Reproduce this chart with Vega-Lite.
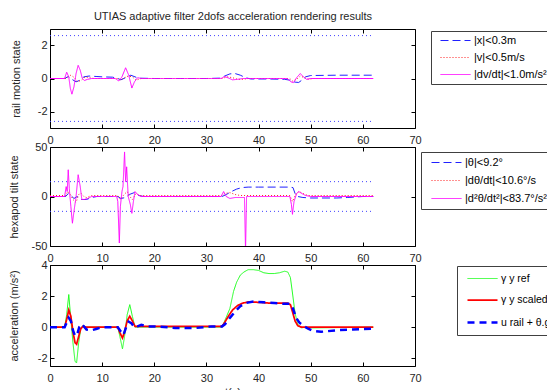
{
  "$schema": "https://vega.github.io/schema/vega-lite/v6.json",
  "padding": {"left": 7, "top": 10, "right": 0, "bottom": 0},
  "config": {
    "font": "Liberation Sans",
    "view": {"stroke": "#000000", "strokeWidth": 1},
    "axis": {
      "labelFont": "Liberation Sans", "labelFontSize": 11, "labelColor": "#262626",
      "titleFont": "Liberation Sans", "titleFontSize": 11, "titleFontWeight": "normal", "titleColor": "#262626",
      "grid": true, "gridColor": "#000000", "gridDash": [1, 3], "gridOpacity": 0.75,
      "domain": false, "ticks": true, "tickColor": "#000000", "tickSize": -4, "labelPadding": 7,
      "labelFlush": false, "labelOverlap": false
    },
    "axisX": {"labelPadding": 10},
    "legend": {
      "labelFont": "Liberation Sans", "labelFontSize": 11, "labelColor": "#000000", "labelLimit": 400,
      "strokeColor": "#404040", "fillColor": "#ffffff", "symbolType": "M-3,0L3,0", "symbolSize": 100,
      "symbolStrokeWidth": 1, "symbolOpacity": 1
    }
  },
  "datasets": {
    "p1": [
      {"s":"|x|<0.3m","t":0,"y":0},{"s":"|x|<0.3m","t":2.8,"y":0},{"s":"|x|<0.3m","t":3.5,"y":0.12},{"s":"|x|<0.3m","t":4.2,"y":-0.05},{"s":"|x|<0.3m","t":5,"y":-0.2},{"s":"|x|<0.3m","t":5.8,"y":-0.1},{"s":"|x|<0.3m","t":6.5,"y":0.1},{"s":"|x|<0.3m","t":7.5,"y":0.15},{"s":"|x|<0.3m","t":9,"y":0.12},{"s":"|x|<0.3m","t":10,"y":0.1},{"s":"|x|<0.3m","t":12,"y":0.08},{"s":"|x|<0.3m","t":13,"y":0},{"s":"|x|<0.3m","t":13.6,"y":-0.08},{"s":"|x|<0.3m","t":14.5,"y":0.05},{"s":"|x|<0.3m","t":15.5,"y":0.2},{"s":"|x|<0.3m","t":16.3,"y":0.1},{"s":"|x|<0.3m","t":17,"y":0.02},{"s":"|x|<0.3m","t":20,"y":0},{"s":"|x|<0.3m","t":25,"y":0},{"s":"|x|<0.3m","t":30,"y":0},{"s":"|x|<0.3m","t":32.5,"y":0.02},{"s":"|x|<0.3m","t":33.5,"y":0.15},{"s":"|x|<0.3m","t":34.5,"y":0.28},{"s":"|x|<0.3m","t":35.5,"y":0.3},{"s":"|x|<0.3m","t":36.5,"y":0.2},{"s":"|x|<0.3m","t":37.5,"y":0.05},{"s":"|x|<0.3m","t":38.5,"y":-0.03},{"s":"|x|<0.3m","t":42,"y":-0.03},{"s":"|x|<0.3m","t":45,"y":-0.05},{"s":"|x|<0.3m","t":46,"y":-0.1},{"s":"|x|<0.3m","t":47,"y":-0.22},{"s":"|x|<0.3m","t":47.7,"y":-0.24},{"s":"|x|<0.3m","t":48.3,"y":-0.1},{"s":"|x|<0.3m","t":49,"y":0.1},{"s":"|x|<0.3m","t":50,"y":0.18},{"s":"|x|<0.3m","t":55,"y":0.2},{"s":"|x|<0.3m","t":60,"y":0.2},{"s":"|x|<0.3m","t":62,"y":0.2},
      {"s":"|v|<0.5m/s","t":0,"y":0},{"s":"|v|<0.5m/s","t":3,"y":0},{"s":"|v|<0.5m/s","t":3.5,"y":0.1},{"s":"|v|<0.5m/s","t":4,"y":0.2},{"s":"|v|<0.5m/s","t":4.7,"y":0.05},{"s":"|v|<0.5m/s","t":5.3,"y":-0.2},{"s":"|v|<0.5m/s","t":6,"y":-0.1},{"s":"|v|<0.5m/s","t":6.8,"y":0.1},{"s":"|v|<0.5m/s","t":7.5,"y":0.05},{"s":"|v|<0.5m/s","t":8.5,"y":0},{"s":"|v|<0.5m/s","t":13,"y":0},{"s":"|v|<0.5m/s","t":13.5,"y":-0.1},{"s":"|v|<0.5m/s","t":14.3,"y":0.05},{"s":"|v|<0.5m/s","t":15,"y":0.15},{"s":"|v|<0.5m/s","t":15.8,"y":0.1},{"s":"|v|<0.5m/s","t":16.5,"y":-0.1},{"s":"|v|<0.5m/s","t":17.5,"y":0},{"s":"|v|<0.5m/s","t":33,"y":0},{"s":"|v|<0.5m/s","t":34,"y":0.1},{"s":"|v|<0.5m/s","t":35,"y":0.05},{"s":"|v|<0.5m/s","t":36,"y":-0.05},{"s":"|v|<0.5m/s","t":37,"y":-0.05},{"s":"|v|<0.5m/s","t":38,"y":0},{"s":"|v|<0.5m/s","t":46,"y":0},{"s":"|v|<0.5m/s","t":46.5,"y":-0.15},{"s":"|v|<0.5m/s","t":47.3,"y":-0.05},{"s":"|v|<0.5m/s","t":48,"y":0.15},{"s":"|v|<0.5m/s","t":48.8,"y":0.05},{"s":"|v|<0.5m/s","t":49.5,"y":-0.05},{"s":"|v|<0.5m/s","t":50.5,"y":0},{"s":"|v|<0.5m/s","t":62,"y":0},
      {"s":"|dv/dt|<1.0m/s²","t":0,"y":0},{"s":"|dv/dt|<1.0m/s²","t":2.8,"y":0},{"s":"|dv/dt|<1.0m/s²","t":3.2,"y":0.38},{"s":"|dv/dt|<1.0m/s²","t":3.6,"y":0.1},{"s":"|dv/dt|<1.0m/s²","t":3.9,"y":-0.6},{"s":"|dv/dt|<1.0m/s²","t":4.2,"y":-0.95},{"s":"|dv/dt|<1.0m/s²","t":4.6,"y":-0.5},{"s":"|dv/dt|<1.0m/s²","t":5,"y":0.3},{"s":"|dv/dt|<1.0m/s²","t":5.4,"y":0.8},{"s":"|dv/dt|<1.0m/s²","t":5.8,"y":0.5},{"s":"|dv/dt|<1.0m/s²","t":6.2,"y":0},{"s":"|dv/dt|<1.0m/s²","t":6.6,"y":-0.12},{"s":"|dv/dt|<1.0m/s²","t":7.2,"y":-0.05},{"s":"|dv/dt|<1.0m/s²","t":8,"y":0},{"s":"|dv/dt|<1.0m/s²","t":12.5,"y":0},{"s":"|dv/dt|<1.0m/s²","t":13.2,"y":-0.15},{"s":"|dv/dt|<1.0m/s²","t":13.8,"y":0.1},{"s":"|dv/dt|<1.0m/s²","t":14.5,"y":0.65},{"s":"|dv/dt|<1.0m/s²","t":15.1,"y":0.2},{"s":"|dv/dt|<1.0m/s²","t":15.7,"y":-0.58},{"s":"|dv/dt|<1.0m/s²","t":16.2,"y":-0.2},{"s":"|dv/dt|<1.0m/s²","t":16.8,"y":0.05},{"s":"|dv/dt|<1.0m/s²","t":17.5,"y":0},{"s":"|dv/dt|<1.0m/s²","t":32.8,"y":0},{"s":"|dv/dt|<1.0m/s²","t":33.5,"y":0.12},{"s":"|dv/dt|<1.0m/s²","t":34.3,"y":0.02},{"s":"|dv/dt|<1.0m/s²","t":35,"y":-0.08},{"s":"|dv/dt|<1.0m/s²","t":36,"y":-0.05},{"s":"|dv/dt|<1.0m/s²","t":37,"y":0},{"s":"|dv/dt|<1.0m/s²","t":45.5,"y":0},{"s":"|dv/dt|<1.0m/s²","t":46.2,"y":-0.2},{"s":"|dv/dt|<1.0m/s²","t":46.7,"y":-0.25},{"s":"|dv/dt|<1.0m/s²","t":47.3,"y":0.05},{"s":"|dv/dt|<1.0m/s²","t":48,"y":0.3},{"s":"|dv/dt|<1.0m/s²","t":48.6,"y":0.1},{"s":"|dv/dt|<1.0m/s²","t":49.2,"y":-0.05},{"s":"|dv/dt|<1.0m/s²","t":50,"y":0},{"s":"|dv/dt|<1.0m/s²","t":62,"y":0}
    ],
    "lim1": [
      {"g":"u","t":0,"y":2.6},{"g":"u","t":62,"y":2.6},{"g":"d","t":0,"y":-2.6},{"g":"d","t":62,"y":-2.6}
    ],
    "p2": [
      {"s":"|θ|<9.2°","t":0,"y":0},{"s":"|θ|<9.2°","t":3,"y":0},{"s":"|θ|<9.2°","t":3.5,"y":3},{"s":"|θ|<9.2°","t":4,"y":1},{"s":"|θ|<9.2°","t":4.6,"y":-2},{"s":"|θ|<9.2°","t":5.2,"y":0},{"s":"|θ|<9.2°","t":6,"y":-3},{"s":"|θ|<9.2°","t":7,"y":-3},{"s":"|θ|<9.2°","t":8,"y":-1},{"s":"|θ|<9.2°","t":9,"y":0},{"s":"|θ|<9.2°","t":13,"y":0},{"s":"|θ|<9.2°","t":13.6,"y":-2},{"s":"|θ|<9.2°","t":14.5,"y":-1},{"s":"|θ|<9.2°","t":15.2,"y":2},{"s":"|θ|<9.2°","t":16.2,"y":4},{"s":"|θ|<9.2°","t":17,"y":1},{"s":"|θ|<9.2°","t":18,"y":0},{"s":"|θ|<9.2°","t":33,"y":0},{"s":"|θ|<9.2°","t":33.8,"y":2},{"s":"|θ|<9.2°","t":34.8,"y":5},{"s":"|θ|<9.2°","t":35.8,"y":7.5},{"s":"|θ|<9.2°","t":36.8,"y":9},{"s":"|θ|<9.2°","t":38,"y":9.5},{"s":"|θ|<9.2°","t":40,"y":9.5},{"s":"|θ|<9.2°","t":44,"y":9.5},{"s":"|θ|<9.2°","t":46,"y":9.5},{"s":"|θ|<9.2°","t":46.6,"y":9},{"s":"|θ|<9.2°","t":47,"y":3},{"s":"|θ|<9.2°","t":47.5,"y":0},{"s":"|θ|<9.2°","t":48.5,"y":-1},{"s":"|θ|<9.2°","t":50,"y":-1.5},{"s":"|θ|<9.2°","t":55,"y":-1.5},{"s":"|θ|<9.2°","t":57,"y":-1},{"s":"|θ|<9.2°","t":60,"y":0},{"s":"|θ|<9.2°","t":62,"y":0},
      {"s":"|dθ/dt|<10.6°/s","t":0,"y":1},{"s":"|dθ/dt|<10.6°/s","t":3,"y":1},{"s":"|dθ/dt|<10.6°/s","t":3.4,"y":5},{"s":"|dθ/dt|<10.6°/s","t":3.8,"y":3},{"s":"|dθ/dt|<10.6°/s","t":4.4,"y":-3},{"s":"|dθ/dt|<10.6°/s","t":5,"y":-6},{"s":"|dθ/dt|<10.6°/s","t":5.5,"y":2},{"s":"|dθ/dt|<10.6°/s","t":6,"y":3},{"s":"|dθ/dt|<10.6°/s","t":6.5,"y":0},{"s":"|dθ/dt|<10.6°/s","t":7,"y":-1},{"s":"|dθ/dt|<10.6°/s","t":8,"y":1},{"s":"|dθ/dt|<10.6°/s","t":13,"y":1},{"s":"|dθ/dt|<10.6°/s","t":13.5,"y":-3},{"s":"|dθ/dt|<10.6°/s","t":14.2,"y":2},{"s":"|dθ/dt|<10.6°/s","t":14.8,"y":5},{"s":"|dθ/dt|<10.6°/s","t":15.3,"y":0},{"s":"|dθ/dt|<10.6°/s","t":15.8,"y":-3},{"s":"|dθ/dt|<10.6°/s","t":16.5,"y":3},{"s":"|dθ/dt|<10.6°/s","t":17.2,"y":1},{"s":"|dθ/dt|<10.6°/s","t":33,"y":1},{"s":"|dθ/dt|<10.6°/s","t":33.5,"y":3},{"s":"|dθ/dt|<10.6°/s","t":34.5,"y":4},{"s":"|dθ/dt|<10.6°/s","t":35.5,"y":2},{"s":"|dθ/dt|<10.6°/s","t":36.5,"y":1},{"s":"|dθ/dt|<10.6°/s","t":46,"y":1},{"s":"|dθ/dt|<10.6°/s","t":46.5,"y":-5},{"s":"|dθ/dt|<10.6°/s","t":47.2,"y":3},{"s":"|dθ/dt|<10.6°/s","t":47.8,"y":5},{"s":"|dθ/dt|<10.6°/s","t":48.5,"y":3},{"s":"|dθ/dt|<10.6°/s","t":49.5,"y":1},{"s":"|dθ/dt|<10.6°/s","t":62,"y":1},
      {"s":"|d²θ/dt²|<83.7°/s²","t":0,"y":0},{"s":"|d²θ/dt²|<83.7°/s²","t":2.8,"y":0},{"s":"|d²θ/dt²|<83.7°/s²","t":3.1,"y":10},{"s":"|d²θ/dt²|<83.7°/s²","t":3.3,"y":5},{"s":"|d²θ/dt²|<83.7°/s²","t":3.5,"y":27},{"s":"|d²θ/dt²|<83.7°/s²","t":3.7,"y":8},{"s":"|d²θ/dt²|<83.7°/s²","t":4,"y":-10},{"s":"|d²θ/dt²|<83.7°/s²","t":4.3,"y":-27},{"s":"|d²θ/dt²|<83.7°/s²","t":4.6,"y":-15},{"s":"|d²θ/dt²|<83.7°/s²","t":5,"y":0},{"s":"|d²θ/dt²|<83.7°/s²","t":5.4,"y":22},{"s":"|d²θ/dt²|<83.7°/s²","t":5.8,"y":10},{"s":"|d²θ/dt²|<83.7°/s²","t":6.1,"y":-3},{"s":"|d²θ/dt²|<83.7°/s²","t":6.6,"y":-3},{"s":"|d²θ/dt²|<83.7°/s²","t":7.2,"y":-2},{"s":"|d²θ/dt²|<83.7°/s²","t":8,"y":0},{"s":"|d²θ/dt²|<83.7°/s²","t":12.8,"y":0},{"s":"|d²θ/dt²|<83.7°/s²","t":13,"y":-5},{"s":"|d²θ/dt²|<83.7°/s²","t":13.3,"y":-47},{"s":"|d²θ/dt²|<83.7°/s²","t":13.5,"y":-10},{"s":"|d²θ/dt²|<83.7°/s²","t":13.8,"y":5},{"s":"|d²θ/dt²|<83.7°/s²","t":14,"y":10},{"s":"|d²θ/dt²|<83.7°/s²","t":14.3,"y":45},{"s":"|d²θ/dt²|<83.7°/s²","t":14.5,"y":15},{"s":"|d²θ/dt²|<83.7°/s²","t":14.7,"y":30},{"s":"|d²θ/dt²|<83.7°/s²","t":15,"y":0},{"s":"|d²θ/dt²|<83.7°/s²","t":15.4,"y":-8},{"s":"|d²θ/dt²|<83.7°/s²","t":15.7,"y":-17},{"s":"|d²θ/dt²|<83.7°/s²","t":16,"y":-5},{"s":"|d²θ/dt²|<83.7°/s²","t":16.3,"y":5},{"s":"|d²θ/dt²|<83.7°/s²","t":16.8,"y":2},{"s":"|d²θ/dt²|<83.7°/s²","t":17.5,"y":0},{"s":"|d²θ/dt²|<83.7°/s²","t":32.8,"y":0},{"s":"|d²θ/dt²|<83.7°/s²","t":33.3,"y":5},{"s":"|d²θ/dt²|<83.7°/s²","t":33.8,"y":0},{"s":"|d²θ/dt²|<83.7°/s²","t":34.5,"y":-2},{"s":"|d²θ/dt²|<83.7°/s²","t":35.5,"y":-1},{"s":"|d²θ/dt²|<83.7°/s²","t":37.3,"y":-1},{"s":"|d²θ/dt²|<83.7°/s²","t":37.5,"y":-55},{"s":"|d²θ/dt²|<83.7°/s²","t":37.7,"y":0},{"s":"|d²θ/dt²|<83.7°/s²","t":38.5,"y":0},{"s":"|d²θ/dt²|<83.7°/s²","t":46,"y":0},{"s":"|d²θ/dt²|<83.7°/s²","t":46.3,"y":-8},{"s":"|d²θ/dt²|<83.7°/s²","t":46.5,"y":-18},{"s":"|d²θ/dt²|<83.7°/s²","t":46.8,"y":-5},{"s":"|d²θ/dt²|<83.7°/s²","t":47.3,"y":3},{"s":"|d²θ/dt²|<83.7°/s²","t":47.7,"y":5},{"s":"|d²θ/dt²|<83.7°/s²","t":48.3,"y":3},{"s":"|d²θ/dt²|<83.7°/s²","t":49,"y":1},{"s":"|d²θ/dt²|<83.7°/s²","t":50,"y":0},{"s":"|d²θ/dt²|<83.7°/s²","t":62,"y":0}
    ],
    "lim2": [
      {"g":"u","t":0,"y":15},{"g":"u","t":62,"y":15},{"g":"d","t":0,"y":-15},{"g":"d","t":62,"y":-15}
    ],
    "p3": [
      {"s":"γ y ref","t":0,"y":0},{"s":"γ y ref","t":2.8,"y":0},{"s":"γ y ref","t":3.2,"y":0.8},{"s":"γ y ref","t":3.6,"y":2.1},{"s":"γ y ref","t":4,"y":0.5},{"s":"γ y ref","t":4.4,"y":-1},{"s":"γ y ref","t":4.8,"y":-2.2},{"s":"γ y ref","t":5.1,"y":-2.3},{"s":"γ y ref","t":5.5,"y":-1},{"s":"γ y ref","t":5.9,"y":-0.1},{"s":"γ y ref","t":6.3,"y":0.1},{"s":"γ y ref","t":7,"y":0},{"s":"γ y ref","t":13,"y":0},{"s":"γ y ref","t":13.4,"y":-0.6},{"s":"γ y ref","t":13.9,"y":-1.4},{"s":"γ y ref","t":14.3,"y":-0.6},{"s":"γ y ref","t":14.8,"y":0.8},{"s":"γ y ref","t":15.3,"y":1.45},{"s":"γ y ref","t":15.8,"y":0.7},{"s":"γ y ref","t":16.3,"y":0},{"s":"γ y ref","t":17,"y":0},{"s":"γ y ref","t":33,"y":0},{"s":"γ y ref","t":33.5,"y":0.4},{"s":"γ y ref","t":34.5,"y":1.2},{"s":"γ y ref","t":35.2,"y":2.3},{"s":"γ y ref","t":35.8,"y":2.9},{"s":"γ y ref","t":36.5,"y":3.35},{"s":"γ y ref","t":37.2,"y":3.55},{"s":"γ y ref","t":38,"y":3.7},{"s":"γ y ref","t":39,"y":3.7},{"s":"γ y ref","t":40,"y":3.65},{"s":"γ y ref","t":41,"y":3.5},{"s":"γ y ref","t":42,"y":3.45},{"s":"γ y ref","t":43,"y":3.45},{"s":"γ y ref","t":44,"y":3.5},{"s":"γ y ref","t":45,"y":3.6},{"s":"γ y ref","t":45.6,"y":3.55},{"s":"γ y ref","t":46.1,"y":3.2},{"s":"γ y ref","t":46.5,"y":2.2},{"s":"γ y ref","t":47,"y":0.9},{"s":"γ y ref","t":47.5,"y":0.2},{"s":"γ y ref","t":48.2,"y":-0.05},{"s":"γ y ref","t":49,"y":0},{"s":"γ y ref","t":50,"y":-0.05},{"s":"γ y ref","t":62,"y":0},
      {"s":"γ y scaled","t":0,"y":0},{"s":"γ y scaled","t":2.8,"y":0},{"s":"γ y scaled","t":3.2,"y":0.5},{"s":"γ y scaled","t":3.6,"y":1.1},{"s":"γ y scaled","t":4,"y":0.7},{"s":"γ y scaled","t":4.4,"y":-0.3},{"s":"γ y scaled","t":4.8,"y":-1},{"s":"γ y scaled","t":5.1,"y":-1.1},{"s":"γ y scaled","t":5.5,"y":-0.6},{"s":"γ y scaled","t":5.9,"y":-0.1},{"s":"γ y scaled","t":6.3,"y":0.05},{"s":"γ y scaled","t":7,"y":0},{"s":"γ y scaled","t":13,"y":0},{"s":"γ y scaled","t":13.4,"y":-0.35},{"s":"γ y scaled","t":13.9,"y":-0.7},{"s":"γ y scaled","t":14.3,"y":-0.3},{"s":"γ y scaled","t":14.8,"y":0.4},{"s":"γ y scaled","t":15.3,"y":0.7},{"s":"γ y scaled","t":15.8,"y":0.4},{"s":"γ y scaled","t":16.3,"y":0.05},{"s":"γ y scaled","t":17,"y":0.05},{"s":"γ y scaled","t":25,"y":0.05},{"s":"γ y scaled","t":33,"y":0.05},{"s":"γ y scaled","t":33.5,"y":0.3},{"s":"γ y scaled","t":34.2,"y":0.7},{"s":"γ y scaled","t":35,"y":1.1},{"s":"γ y scaled","t":36,"y":1.4},{"s":"γ y scaled","t":37,"y":1.55},{"s":"γ y scaled","t":38,"y":1.62},{"s":"γ y scaled","t":40,"y":1.6},{"s":"γ y scaled","t":42,"y":1.55},{"s":"γ y scaled","t":44,"y":1.55},{"s":"γ y scaled","t":45.6,"y":1.55},{"s":"γ y scaled","t":46.1,"y":1.45},{"s":"γ y scaled","t":46.5,"y":1},{"s":"γ y scaled","t":47,"y":0.4},{"s":"γ y scaled","t":47.5,"y":0.1},{"s":"γ y scaled","t":48.2,"y":0},{"s":"γ y scaled","t":62,"y":0},
      {"s":"u rail + θ.g","t":0,"y":0},{"s":"u rail + θ.g","t":2.8,"y":0},{"s":"u rail + θ.g","t":3.2,"y":0.3},{"s":"u rail + θ.g","t":3.6,"y":0.6},{"s":"u rail + θ.g","t":4,"y":0.4},{"s":"u rail + θ.g","t":4.4,"y":-0.2},{"s":"u rail + θ.g","t":4.8,"y":-0.55},{"s":"u rail + θ.g","t":5.2,"y":-0.5},{"s":"u rail + θ.g","t":5.6,"y":0},{"s":"u rail + θ.g","t":6,"y":0.2},{"s":"u rail + θ.g","t":6.5,"y":0.05},{"s":"u rail + θ.g","t":7,"y":-0.15},{"s":"u rail + θ.g","t":8,"y":-0.2},{"s":"u rail + θ.g","t":9,"y":-0.1},{"s":"u rail + θ.g","t":10,"y":0},{"s":"u rail + θ.g","t":13,"y":0},{"s":"u rail + θ.g","t":13.6,"y":-0.3},{"s":"u rail + θ.g","t":14.1,"y":-0.5},{"s":"u rail + θ.g","t":14.6,"y":0},{"s":"u rail + θ.g","t":15.1,"y":0.35},{"s":"u rail + θ.g","t":15.6,"y":0.25},{"s":"u rail + θ.g","t":16.2,"y":0},{"s":"u rail + θ.g","t":16.8,"y":0.05},{"s":"u rail + θ.g","t":17.5,"y":0.15},{"s":"u rail + θ.g","t":18.5,"y":0.05},{"s":"u rail + θ.g","t":20,"y":0.05},{"s":"u rail + θ.g","t":24,"y":-0.05},{"s":"u rail + θ.g","t":28,"y":-0.05},{"s":"u rail + θ.g","t":31,"y":0.05},{"s":"u rail + θ.g","t":33,"y":0.05},{"s":"u rail + θ.g","t":33.6,"y":0.2},{"s":"u rail + θ.g","t":34.5,"y":0.6},{"s":"u rail + θ.g","t":35.5,"y":1},{"s":"u rail + θ.g","t":36.5,"y":1.35},{"s":"u rail + θ.g","t":37.5,"y":1.55},{"s":"u rail + θ.g","t":39,"y":1.65},{"s":"u rail + θ.g","t":41,"y":1.6},{"s":"u rail + θ.g","t":43,"y":1.55},{"s":"u rail + θ.g","t":45,"y":1.5},{"s":"u rail + θ.g","t":46,"y":1.5},{"s":"u rail + θ.g","t":46.6,"y":1.2},{"s":"u rail + θ.g","t":47.2,"y":0.6},{"s":"u rail + θ.g","t":47.8,"y":0.3},{"s":"u rail + θ.g","t":48.5,"y":0.1},{"s":"u rail + θ.g","t":49.5,"y":-0.1},{"s":"u rail + θ.g","t":50.5,"y":-0.25},{"s":"u rail + θ.g","t":52,"y":-0.3},{"s":"u rail + θ.g","t":55,"y":-0.2},{"s":"u rail + θ.g","t":58,"y":-0.15},{"s":"u rail + θ.g","t":62,"y":-0.1}
    ]
  },
  "bounds": "flush",
  "spacing": 19,
  "resolve": {
    "scale": {"x": "independent", "y": "independent", "color": "independent", "strokeDash": "independent", "strokeWidth": "independent"},
    "legend": {"color": "independent", "strokeDash": "independent", "strokeWidth": "independent"}
  },
  "vconcat": [
    {
      "width": 365, "height": 99,
      "layer": [
        {
          "data": {"name": "lim1"},
          "mark": {"type": "line", "color": "#4040ff", "strokeWidth": 1, "strokeDash": [1, 3]},
          "encoding": {
            "x": {"field": "t", "type": "quantitative", "scale": {"domain": [0, 70], "nice": false}, "axis": {"orient": "top", "labels": false, "grid": false, "title": "UTIAS adaptive filter 2dofs acceleration rendering results", "titlePadding": 7, "values": [0,10,20,30,40,50,60,70]}},
            "y": {"field": "y", "type": "quantitative", "scale": {"domain": [-3, 3], "nice": false, "zero": false}, "axis": {"orient": "right", "labels": false, "grid": false, "title": null, "values": [-2,0,2]}},
            "detail": {"field": "g"}
          }
        },
        {
          "data": {"name": "p1"},
          "mark": {"type": "line", "strokeWidth": 1, "clip": true},
          "encoding": {
            "x": {"field": "t", "type": "quantitative", "scale": {"domain": [0, 70], "nice": false}, "axis": {"values": [0,10,20,30,40,50,60,70], "title": null}},
            "y": {"field": "y", "type": "quantitative", "scale": {"domain": [-3, 3], "nice": false, "zero": false}, "axis": {"values": [-2,0,2], "title": "rail motion state", "titlePadding": 16, "labelExpr": "'' + datum.value"}},
            "color": {"field": "s", "type": "nominal", "scale": {"domain": ["|x|<0.3m", "|v|<0.5m/s", "|dv/dt|<1.0m/s²"], "range": ["#2020ff", "#ff2020", "#ff00ff"]},
              "legend": {"title": null, "orient": "none", "legendX": 381, "legendY": 2, "padding": 4, "rowPadding": 5, "symbolOffset": 15, "labelOffset": 13,
                "encode": {"symbols": {"update": {
                  "stroke": {"signal": "datum.value == '|x|<0.3m' ? '#2020ff' : datum.value == '|v|<0.5m/s' ? '#ff2020' : '#ff00ff'"},
                  "opacity": {"value": 1},
                  "strokeDash": {"signal": "datum.value == '|x|<0.3m' ? [8, 4] : datum.value == '|v|<0.5m/s' ? [1, 2] : [1, 0]"}}}}}},
            "strokeDash": {"field": "s", "type": "nominal", "scale": {"domain": ["|x|<0.3m", "|v|<0.5m/s", "|dv/dt|<1.0m/s²"], "range": [[8, 4], [1, 2], [1, 0]]}, "legend": null}
          }
        }
      ],
      "resolve": {"axis": {"x": "independent", "y": "independent"}}
    },
    {
      "width": 365, "height": 99,
      "layer": [
        {
          "data": {"name": "lim2"},
          "mark": {"type": "line", "color": "#4040ff", "strokeWidth": 1, "strokeDash": [1, 3]},
          "encoding": {
            "x": {"field": "t", "type": "quantitative", "scale": {"domain": [0, 70], "nice": false}, "axis": {"orient": "top", "labels": false, "grid": false, "title": null, "values": [0,10,20,30,40,50,60,70]}},
            "y": {"field": "y", "type": "quantitative", "scale": {"domain": [-50, 50], "nice": false, "zero": false}, "axis": {"orient": "right", "labels": false, "grid": false, "title": null, "values": [-50,0,50]}},
            "detail": {"field": "g"}
          }
        },
        {
          "data": {"name": "p2"},
          "mark": {"type": "line", "strokeWidth": 1, "clip": true},
          "encoding": {
            "x": {"field": "t", "type": "quantitative", "scale": {"domain": [0, 70], "nice": false}, "axis": {"values": [0,10,20,30,40,50,60,70], "title": null}},
            "y": {"field": "y", "type": "quantitative", "scale": {"domain": [-50, 50], "nice": false, "zero": false}, "axis": {"values": [-50,0,50], "title": "hexapod tilt state", "titlePadding": 12, "labelExpr": "'' + datum.value"}},
            "color": {"field": "s", "type": "nominal", "scale": {"domain": ["|θ|<9.2°", "|dθ/dt|<10.6°/s", "|d²θ/dt²|<83.7°/s²"], "range": ["#2020ff", "#ff2020", "#ff00ff"]},
              "legend": {"title": null, "orient": "none", "legendX": 371, "legendY": 5, "padding": 5, "rowPadding": 6, "symbolOffset": 15, "labelOffset": 13,
                "encode": {"symbols": {"update": {
                  "stroke": {"signal": "datum.value == '|θ|<9.2°' ? '#2020ff' : datum.value == '|dθ/dt|<10.6°/s' ? '#ff2020' : '#ff00ff'"},
                  "opacity": {"value": 1},
                  "strokeDash": {"signal": "datum.value == '|θ|<9.2°' ? [8, 4] : datum.value == '|dθ/dt|<10.6°/s' ? [1, 2] : [1, 0]"}}}}}},
            "strokeDash": {"field": "s", "type": "nominal", "scale": {"domain": ["|θ|<9.2°", "|dθ/dt|<10.6°/s", "|d²θ/dt²|<83.7°/s²"], "range": [[8, 4], [1, 2], [1, 0]]}, "legend": null}
          }
        }
      ],
      "resolve": {"axis": {"x": "independent", "y": "independent"}}
    },
    {
      "width": 365, "height": 101,
      "layer": [
        {
          "data": {"name": "p3"},
          "mark": {"type": "line", "opacity": 0},
          "encoding": {
            "x": {"field": "t", "type": "quantitative", "scale": {"domain": [0, 70], "nice": false}, "axis": {"orient": "top", "labels": false, "grid": false, "title": null, "values": [0,10,20,30,40,50,60,70]}},
            "y": {"field": "y", "type": "quantitative", "scale": {"domain": [-2.5, 4], "nice": false, "zero": false}, "axis": {"orient": "right", "labels": false, "grid": false, "title": null, "values": [-2,0,2,4]}},
            "detail": {"field": "s"}
          }
        },
        {
          "data": {"name": "p3"},
          "mark": {"type": "line", "clip": true},
          "encoding": {
            "x": {"field": "t", "type": "quantitative", "scale": {"domain": [0, 70], "nice": false}, "axis": {"values": [0,10,20,30,40,50,60,70], "title": "t(s)", "titlePadding": 3}},
            "y": {"field": "y", "type": "quantitative", "scale": {"domain": [-2.5, 4], "nice": false, "zero": false}, "axis": {"values": [-2,0,2,4], "title": "acceleration (m/s²)", "titlePadding": 18, "labelExpr": "'' + datum.value"}},
            "color": {"field": "s", "type": "nominal", "scale": {"domain": ["γ y ref", "γ y scaled", "u rail + θ.g"], "range": ["#20ff20", "#ff0000", "#0000ff"]},
              "legend": {"title": null, "orient": "none", "legendX": 407, "legendY": 1, "padding": 7, "rowPadding": 10, "symbolOffset": 12, "labelOffset": 12, "labelFontSize": 10.5,
                "encode": {"symbols": {"update": {
                  "stroke": {"signal": "datum.value == 'γ y ref' ? '#20ff20' : datum.value == 'γ y scaled' ? '#ff0000' : '#0000ff'"},
                  "opacity": {"value": 1},
                  "strokeDash": {"signal": "datum.value == 'u rail + θ.g' ? [7, 5] : [1, 0]"},
                  "strokeWidth": {"signal": "datum.value == 'γ y ref' ? 1 : 2.5"}}}}}},
            "strokeDash": {"field": "s", "type": "nominal", "scale": {"domain": ["γ y ref", "γ y scaled", "u rail + θ.g"], "range": [[1, 0], [1, 0], [7, 5]]}, "legend": null},
            "strokeWidth": {"field": "s", "type": "nominal", "scale": {"domain": ["γ y ref", "γ y scaled", "u rail + θ.g"], "range": [1, 2.5, 2.5]}, "legend": null}
          }
        }
      ],
      "resolve": {"axis": {"x": "independent", "y": "independent"}}
    }
  ]
}
